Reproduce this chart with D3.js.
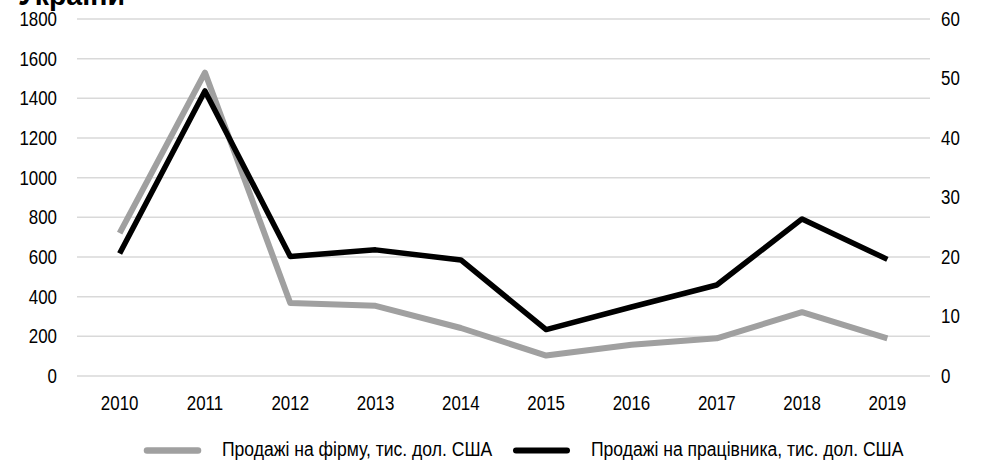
<!DOCTYPE html>
<html><head><meta charset="utf-8">
<script src="https://cdn.jsdelivr.net/npm/d3@7"></script>
<style>body{margin:0;background:#fff}svg{display:block;font-family:"Liberation Sans",Arial,sans-serif}</style>
</head><body>
<svg id="c" width="989" height="460"></svg>
<script>
const years = ["2010","2011","2012","2013","2014","2015","2016","2017","2018","2019"];
const salesPerFirm = [720, 1530, 368, 354, 242, 103, 158, 190, 322, 190];
const salesPerWorker = [20.6, 47.9, 20.1, 21.2, 19.5, 7.8, 11.6, 15.3, 26.4, 19.6];
const leftTicks = [0,200,400,600,800,1000,1200,1400,1600,1800];
const rightTicks = [0,10,20,30,40,50,60];
const seriesNames = ["Продажі на фірму, тис. дол. США","Продажі на працівника, тис. дол. США"];
const titleText = "України";

const svg = d3.select("#c");
const L = 77, R = 930, T = 19, B = 376;
const x = d3.scaleBand().domain(years).range([L, R]);
const yL = d3.scaleLinear().domain([0,1800]).range([B, T]);
const yR = d3.scaleLinear().domain([0,60]).range([B, T]);

// condense text horizontally (reference uses a narrow face)
function condense(sel, f) {
  sel.each(function() {
    const w = this.getComputedTextLength();
    d3.select(this).attr("textLength", w * f).attr("lengthAdjust", "spacingAndGlyphs");
  });
}

const title = svg.append("text").attr("x",18).attr("y",5).attr("font-size",30).attr("font-weight","bold").text(titleText);
condense(title, 0.95);

svg.append("g").selectAll("line").data(leftTicks).join("line")
  .attr("x1",L).attr("x2",R).attr("y1",d=>yL(d)).attr("y2",d=>yL(d))
  .attr("stroke","#d9d9d9").attr("stroke-width",1.5);

const gl = svg.append("g").attr("transform",`translate(${L},0)`)
  .call(d3.axisLeft(yL).tickValues(leftTicks).tickSize(0).tickPadding(20).tickFormat(d3.format("d")));
gl.select(".domain").remove();
gl.selectAll("text").attr("font-size",20).attr("fill","#000").attr("font-family","Liberation Sans, Arial");
condense(gl.selectAll("text"), 0.845);

const gr = svg.append("g").attr("transform",`translate(${R},0)`)
  .call(d3.axisRight(yR).tickValues(rightTicks).tickSize(0).tickPadding(11).tickFormat(d3.format("d")));
gr.select(".domain").remove();
gr.selectAll("text").attr("font-size",20).attr("fill","#000").attr("font-family","Liberation Sans, Arial");
condense(gr.selectAll("text"), 0.845);

const gx = svg.append("g").attr("transform",`translate(0,${B})`)
  .call(d3.axisBottom(x).tickSize(0).tickPadding(20));
gx.select(".domain").remove();
gx.selectAll("text").attr("font-size",20).attr("fill","#000").attr("font-family","Liberation Sans, Arial");
condense(gx.selectAll("text"), 0.845);

const cx = d => x(d) + x.bandwidth()/2;
svg.append("path").datum(salesPerFirm)
  .attr("d", d3.line().x((d,i)=>cx(years[i])).y(d=>yL(d)))
  .attr("fill","none").attr("stroke","#a0a0a0").attr("stroke-width",6).attr("stroke-linejoin","round");
svg.append("path").datum(salesPerWorker)
  .attr("d", d3.line().x((d,i)=>cx(years[i])).y(d=>yR(d)))
  .attr("fill","none").attr("stroke","#000").attr("stroke-width",5.5).attr("stroke-linejoin","round");

const leg = [{c:"#a0a0a0",x:147,w:6.5},{c:"#000",x:516,w:6}];
leg.forEach((l,i)=>{
  svg.append("line").attr("x1",l.x).attr("x2",l.x+51).attr("y1",450.5).attr("y2",450.5)
    .attr("stroke",l.c).attr("stroke-width",l.w).attr("stroke-linecap","round");
  const t = svg.append("text").attr("x",l.x+75).attr("y",456).attr("font-size",19.5).text(seriesNames[i]);
  condense(t, 0.9);
});
</script>
</body></html>
